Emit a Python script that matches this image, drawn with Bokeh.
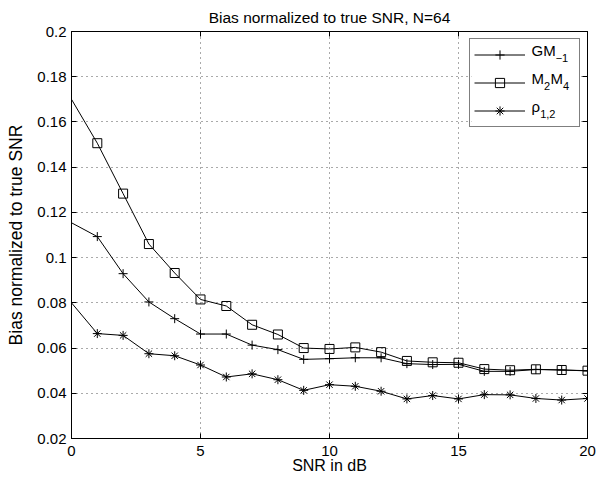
from bokeh.plotting import figure
from bokeh.models import (Range1d, FixedTicker, CustomJSTickFormatter, LinearAxis,
                          Legend, LegendItem, Title, Label, BoxAnnotation)
from bokeh.embed import file_html
from bokeh.resources import INLINE

snr = list(range(0, 21))
gm = [0.1154, 0.1093, 0.0929, 0.0804, 0.0730, 0.0662, 0.0662, 0.0613, 0.0593, 0.0550,
      0.0553, 0.0557, 0.0557, 0.0531, 0.0527, 0.0528, 0.0497, 0.0497, 0.0505, 0.0503, 0.0499]
m2m4 = [0.1700, 0.1506, 0.1283, 0.1060, 0.0932, 0.0815, 0.0786, 0.0703, 0.0660, 0.0600,
        0.0596, 0.0603, 0.0582, 0.0543, 0.0537, 0.0535, 0.0507, 0.0502, 0.0506, 0.0503, 0.0500]
rho = [0.0800, 0.0664, 0.0656, 0.0575, 0.0566, 0.0525, 0.0472, 0.0486, 0.0460, 0.0413,
       0.0438, 0.0431, 0.0409, 0.0375, 0.0390, 0.0375, 0.0394, 0.0393, 0.0377, 0.0370, 0.0377]

x_ticks = [0, 5, 10, 15, 20]
y_ticks = [0.02, 0.04, 0.06, 0.08, 0.10, 0.12, 0.14, 0.16, 0.18, 0.20]
# legend labels: (text, is_subscript) pieces
legend_parts = [[("GM", False), ("\u22121", True)],
                [("M", False), ("2", True), ("M", False), ("4", True)],
                [("\u03C1", False), ("1,2", True)]]

FONT = "Liberation Sans"
W, H = 600, 480
BL, BR, BT, BB = 71, 13, 31, 42
X0, X1, Y0, Y1 = 0, 20, 0.02, 0.2

p = figure(width=W, height=H, output_backend="svg", toolbar_location=None,
           x_range=Range1d(X0, X1), y_range=Range1d(Y0, Y1),
           min_border_left=BL, min_border_right=BR, min_border_top=BT, min_border_bottom=BB)
p.title = Title(text="Bias normalized to true SNR, N=64", align="center",
                vertical_align="middle",
                text_font=FONT, text_font_size="15.5px", text_font_style="normal",
                text_color="black", offset=0, standoff=10)
p.outline_line_color = "black"
p.outline_line_width = 1
p.background_fill_color = "white"
p.border_fill_color = "white"

fmt = CustomJSTickFormatter(code="return String(+tick.toFixed(2));")
for ax in (p.xaxis[0], p.yaxis[0]):
    ax.major_tick_in = 5
    ax.major_tick_out = 0
    ax.minor_tick_in = 0
    ax.minor_tick_out = 0
    ax.axis_line_color = "black"
    ax.major_tick_line_color = "black"
    ax.major_label_text_font = FONT
    ax.major_label_text_font_size = "15px"
    ax.major_label_text_color = "black"
    ax.axis_label_text_font = FONT
    ax.axis_label_text_font_style = "normal"
    ax.axis_label_text_color = "black"
p.xaxis[0].axis_label_text_font_size = "16px"
p.yaxis[0].axis_label_text_font_size = "17.5px"
p.xaxis[0].ticker = FixedTicker(ticks=x_ticks)
p.yaxis[0].ticker = FixedTicker(ticks=y_ticks)
p.xaxis[0].formatter = fmt
p.yaxis[0].formatter = fmt
p.xaxis[0].axis_label = "SNR in dB"
p.yaxis[0].axis_label = "Bias normalized to true SNR"
p.xaxis[0].major_label_standoff = 7
p.yaxis[0].major_label_standoff = 5
p.xaxis[0].axis_label_standoff = -2
p.yaxis[0].axis_label_standoff = 8

# box ticks on top and right
blank = CustomJSTickFormatter(code="return '';")
top = LinearAxis(ticker=FixedTicker(ticks=x_ticks), formatter=blank,
                 major_tick_in=5, major_tick_out=0, minor_tick_in=0, minor_tick_out=0,
                 major_label_text_font_size="0px", major_label_standoff=0)
right = LinearAxis(ticker=FixedTicker(ticks=y_ticks), formatter=blank,
                   major_tick_in=5, major_tick_out=0, minor_tick_in=0, minor_tick_out=0,
                   major_label_text_font_size="0px", major_label_standoff=0)
p.add_layout(top, "above")
p.add_layout(right, "right")

for g in (p.xgrid[0], p.ygrid[0]):
    g.grid_line_color = "#555555"
    g.grid_line_dash = "1 4"
    g.grid_line_width = 1
p.xgrid[0].ticker = FixedTicker(ticks=x_ticks)
p.ygrid[0].ticker = FixedTicker(ticks=y_ticks)

FW = W - BL - BR
FH = H - BT - BB


def dx(px):
    return X0 + (px - BL) / FW * (X1 - X0)


def dy(py):
    return Y1 - (py - BT) / FH * (Y1 - Y0)


# legend geometry (pixels)
LG_MARGIN, LG_PAD, LG_SPACING = 7, 4, 5
LG_GLYPH_W, LG_ROW_H, LG_STANDOFF, LG_LABEL_W = 51, 23, 5, 45
lg_right = W - BR - LG_MARGIN
lg_left = lg_right - (2 * LG_PAD + LG_GLYPH_W + LG_STANDOFF + LG_LABEL_W)
lg_top = BT + LG_MARGIN
lg_bottom = lg_top + 2 * LG_PAD + 3 * LG_ROW_H + 2 * LG_SPACING

# white patch hiding the grid under the (transparent) legend box
p.add_layout(BoxAnnotation(left=dx(lg_left), right=dx(lg_right), top=dy(lg_top),
                           bottom=dy(lg_bottom), fill_color="white", fill_alpha=1,
                           line_color=None, level="underlay"))

# lines start at 0 dB; markers shown from 1 dB on (as in the reference)
l1 = p.line(snr, gm, line_color="black", line_width=1)
s1 = p.scatter(snr[1:], gm[1:], marker="cross", size=9, line_color="black", line_width=1)
l2 = p.line(snr, m2m4, line_color="black", line_width=1)
s2 = p.scatter(snr[1:], m2m4[1:], marker="square", size=9, line_color="black",
               fill_color=None, line_width=1)
l3 = p.line(snr, rho, line_color="black", line_width=1)
s3 = p.scatter(snr[1:], rho[1:], marker="asterisk", size=9, line_color="black", line_width=1)

legend = Legend(items=[LegendItem(label=" ", renderers=[l1, s1]),
                       LegendItem(label=" ", renderers=[l2, s2]),
                       LegendItem(label=" ", renderers=[l3, s3])],
                location="top_right", margin=LG_MARGIN, padding=LG_PAD, spacing=LG_SPACING,
                glyph_width=LG_GLYPH_W, glyph_height=LG_ROW_H, label_height=LG_ROW_H,
                label_standoff=LG_STANDOFF, label_width=LG_LABEL_W,
                label_text_font=FONT, label_text_font_size="15px",
                border_line_color="black", border_line_width=1,
                background_fill_color="white", background_fill_alpha=0)
p.add_layout(legend, "center")

# legend texts with real subscripts
MAIN_PX, SUB_PX = 15, 11
WIDTHS = {"G": 0.778, "M": 0.833, "\u03C1": 0.58, "\u2212": 0.584, "1": 0.556,
          "2": 0.556, "4": 0.556, ",": 0.278}
text_x0 = lg_left + LG_PAD + LG_GLYPH_W + LG_STANDOFF
baselines = [lg_top + LG_PAD + LG_ROW_H / 2 - 4 + i * (LG_ROW_H + LG_SPACING) for i in range(3)]
for parts, base in zip(legend_parts, baselines):
    x = text_x0
    for txt, sub in parts:
        size = SUB_PX if sub else MAIN_PX
        yb = base + (8 if sub else 0)
        p.add_layout(Label(x=dx(x), y=dy(yb), text=txt, text_font=FONT,
                           text_font_size=f"{size}px", text_baseline="alphabetic",
                           text_align="left", text_color="black", level="overlay"))
        x += sum(WIDTHS.get(c, 0.6) for c in txt) * size + (0.5 if sub else 0)

open("out.html", "w").write(file_html(p, INLINE))
